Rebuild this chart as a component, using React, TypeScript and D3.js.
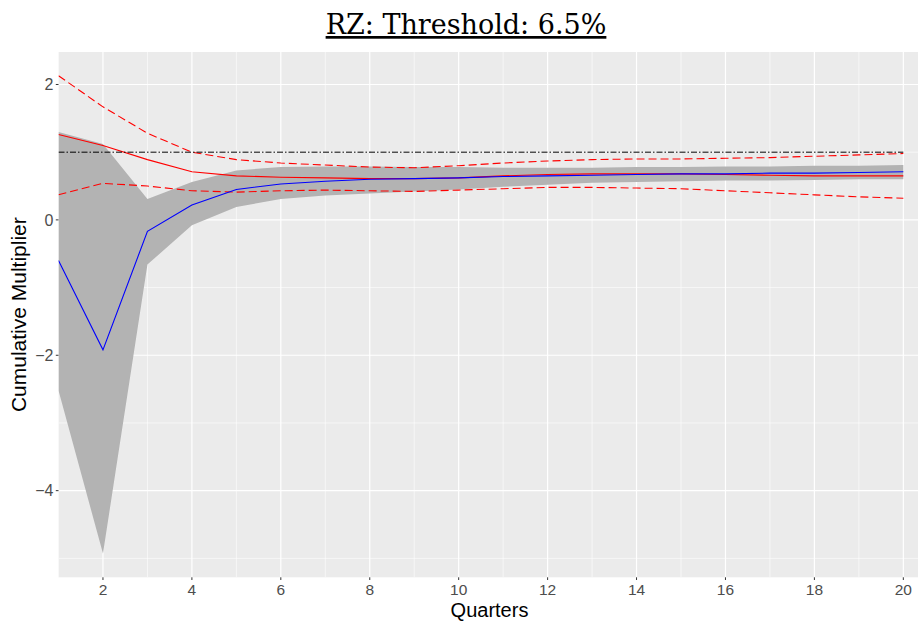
import React from "react";
import * as d3 from "d3";

const quarters = [1, 2, 3, 4, 5, 6, 7, 8, 9, 10, 11, 12, 13, 14, 15, 16, 17, 18, 19, 20];
const estimate = [-0.6, -1.92, -0.17, 0.22, 0.45, 0.53, 0.57, 0.6, 0.61, 0.62, 0.64, 0.65, 0.66, 0.67, 0.68, 0.68, 0.69, 0.69, 0.7, 0.71];
const bandUpper = [1.3, 1.12, 0.31, 0.56, 0.73, 0.78, 0.79, 0.79, 0.78, 0.78, 0.77, 0.77, 0.77, 0.78, 0.78, 0.79, 0.79, 0.8, 0.8, 0.81];
const bandLower = [-2.52, -4.93, -0.66, -0.08, 0.19, 0.31, 0.36, 0.39, 0.42, 0.45, 0.49, 0.52, 0.55, 0.56, 0.57, 0.58, 0.58, 0.59, 0.6, 0.6];
const redMid = [1.26, 1.1, 0.89, 0.71, 0.65, 0.63, 0.62, 0.61, 0.61, 0.62, 0.65, 0.67, 0.68, 0.68, 0.68, 0.67, 0.66, 0.65, 0.65, 0.65];
const redUpper = [2.13, 1.67, 1.28, 1.0, 0.89, 0.84, 0.81, 0.78, 0.77, 0.8, 0.84, 0.87, 0.89, 0.9, 0.9, 0.91, 0.92, 0.94, 0.96, 0.98];
const redLower = [0.37, 0.54, 0.5, 0.43, 0.41, 0.43, 0.44, 0.43, 0.42, 0.44, 0.46, 0.48, 0.48, 0.47, 0.46, 0.43, 0.4, 0.37, 0.34, 0.32];
const threshold = 1;
const xTicks = [2, 4, 6, 8, 10, 12, 14, 16, 18, 20];
const xMinor = [1, 3, 5, 7, 9, 11, 13, 15, 17, 19];
const yTicks = [-4, -2, 0, 2];
const yMinor = [-5, -3, -1, 1];

export default function App() {
  const W = 918, H = 623;
  const left = 58.5, right = 918, top = 52, bottom = 577.3;
  const x = d3.scaleLinear().domain([1, 20.33]).range([left, right]);
  const y = d3.scaleLinear().domain([-5.28, 2.48]).range([bottom, top]);
  const pts = (arr: number[]) => quarters.map((q, i) => [q, arr[i]] as [number, number]);
  const line = d3.line<[number, number]>().x(d => x(d[0])).y(d => y(d[1]));
  const area = d3.area<number>()
    .x((_, i) => x(quarters[i]))
    .y0((_, i) => y(bandLower[i]))
    .y1((_, i) => y(bandUpper[i]));
  const fmt = (v: number) => (v < 0 ? "\u2212" + Math.abs(v) : String(v));
  const sans = "Liberation Sans, Arial, sans-serif";
  return (
    <svg width={W} height={H} style={{ position: "absolute", left: 0, top: 0 }}>
      <rect x={0} y={0} width={W} height={H} fill="#fff" />
      <rect x={left} y={top} width={right - left} height={bottom - top} fill="#EBEBEB" />
      <clipPath id="pc"><rect x={left} y={top} width={right - left} height={bottom - top} /></clipPath>
      <g clipPath="url(#pc)">
        {yMinor.map(v => <line key={"ym" + v} x1={left} x2={right} y1={y(v)} y2={y(v)} stroke="#fff" strokeWidth={0.6} />)}
        {xMinor.map(v => <line key={"xm" + v} x1={x(v)} x2={x(v)} y1={top} y2={bottom} stroke="#fff" strokeWidth={0.6} />)}
        {yTicks.map(v => <line key={"yM" + v} x1={left} x2={right} y1={y(v)} y2={y(v)} stroke="#fff" strokeWidth={1.2} />)}
        {xTicks.map(v => <line key={"xM" + v} x1={x(v)} x2={x(v)} y1={top} y2={bottom} stroke="#fff" strokeWidth={1.2} />)}
        <path d={area(quarters) || ""} fill="#B3B3B3" />
        <path d={line(pts(redUpper)) || ""} fill="none" stroke="#FF0000" strokeWidth={1.1} strokeDasharray="8,4" />
        <path d={line(pts(redLower)) || ""} fill="none" stroke="#FF0000" strokeWidth={1.1} strokeDasharray="8,4" />
        <path d={line(pts(redMid)) || ""} fill="none" stroke="#FF0000" strokeWidth={1.1} />
        <line x1={x(1)} x2={x(20)} y1={y(threshold)} y2={y(threshold)} stroke="#000" strokeWidth={1} strokeDasharray="6,2,1.5,2" />
        <path d={line(pts(estimate)) || ""} fill="none" stroke="#0000FF" strokeWidth={1.1} />
      </g>
      {yTicks.map(v => (
        <g key={"yt" + v}>
          <line x1={left - 2.7} x2={left} y1={y(v)} y2={y(v)} stroke="#333" strokeWidth={1} />
          <text x={left - 5} y={y(v)} dy="0.36em" textAnchor="end" fontFamily={sans} fontSize={16} fill="#4D4D4D">{fmt(v)}</text>
        </g>
      ))}
      {xTicks.map(v => (
        <g key={"xt" + v}>
          <line x1={x(v)} x2={x(v)} y1={bottom} y2={bottom + 2.7} stroke="#333" strokeWidth={1} />
          <text x={x(v)} y={bottom + 17.5} textAnchor="middle" fontFamily={sans} fontSize={15.5} fill="#4D4D4D">{fmt(v)}</text>
        </g>
      ))}
      <text x={489.5} y={616.5} textAnchor="middle" fontFamily={sans} fontSize={20} fill="#000">Quarters</text>
      <text transform={`translate(26, ${(top + bottom) / 2}) rotate(-90)`} textAnchor="middle" fontFamily={sans} fontSize={21} fill="#000">Cumulative Multiplier</text>
      <text x={466} y={34} textAnchor="middle" fontFamily="DejaVu Serif, serif" fontSize={27} fill="#000" textDecoration="underline">RZ: Threshold: 6.5%</text>
    </svg>
  );
}
